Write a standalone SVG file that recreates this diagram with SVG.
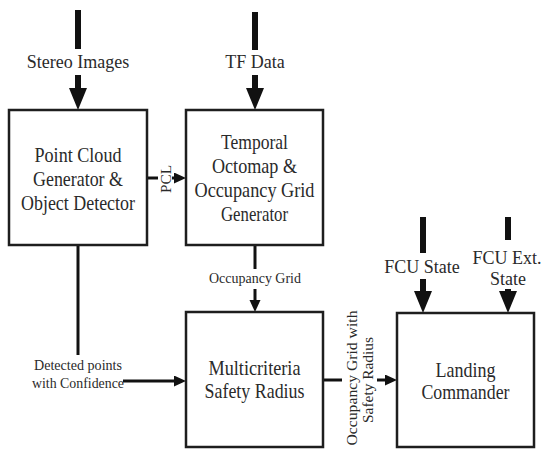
<svg xmlns="http://www.w3.org/2000/svg" width="543" height="449" viewBox="0 0 543 449">
<style>
.bg{fill:#ffffff}
.box{fill:#ffffff;stroke:#1e1e1e;stroke-width:2.5}
.t{font-family:"Liberation Serif",serif;fill:#2a2a2a;text-anchor:middle}
.bt{font-size:21px}
.lt{font-size:18px}
.st{font-size:14px}
.thick{stroke:#111;stroke-width:6;fill:none}
.thin{stroke:#111;stroke-width:3;fill:none}
</style>
<defs>
<marker id="big" markerUnits="userSpaceOnUse" markerWidth="24" markerHeight="20" refX="4" refY="9" orient="auto">
<path d="M0,0 L22,9 L0,18 z" fill="#111"/>
</marker>
<marker id="small" markerUnits="userSpaceOnUse" markerWidth="14" markerHeight="12" refX="1" refY="5.5" orient="auto">
<path d="M0,0 L12,5.5 L0,11 z" fill="#111"/>
</marker>
</defs>
<rect class="bg" x="0" y="0" width="543" height="449"/>

<g id="connectors">
<line class="thick" x1="78" y1="10" x2="78" y2="49"/>
<line class="thick" x1="78" y1="75" x2="78" y2="92" marker-end="url(#big)"/>
<text class="t lt" x="78" y="68">Stereo Images</text>
<line class="thick" x1="255" y1="12" x2="255" y2="50"/>
<line class="thick" x1="255" y1="75" x2="255" y2="92" marker-end="url(#big)"/>
<text class="t lt" x="255" y="68">TF Data</text>
<line class="thin" x1="147" y1="178" x2="158" y2="178"/>
<line class="thin" x1="172" y1="178" x2="175" y2="178" marker-end="url(#small)"/>
<text class="t st" transform="translate(171,179) rotate(-90)" x="0" y="0" textLength="28" lengthAdjust="spacingAndGlyphs">PCL</text>
<line class="thin" x1="255" y1="245" x2="255" y2="269"/>
<line class="thin" x1="255" y1="289" x2="255" y2="301" marker-end="url(#small)"/>
<text class="t st" x="255" y="283" textLength="92" lengthAdjust="spacingAndGlyphs">Occupancy Grid</text>
<line class="thin" x1="78" y1="245" x2="78" y2="355"/>
<line class="thin" x1="123" y1="381" x2="175" y2="381" marker-end="url(#small)"/>
<text class="t st" x="78" y="370" textLength="88" lengthAdjust="spacingAndGlyphs">Detected points</text>
<text class="t st" x="78" y="388" textLength="92" lengthAdjust="spacingAndGlyphs">with Confidence</text>
<line class="thin" x1="323" y1="380" x2="342" y2="380"/>
<line class="thin" x1="377" y1="380" x2="386" y2="380" marker-end="url(#small)"/>
<text class="t st" transform="translate(357,378) rotate(-90)" x="0" y="0" textLength="135" lengthAdjust="spacingAndGlyphs">Occupancy Grid with</text>
<text class="t st" transform="translate(373,380) rotate(-90)" x="0" y="0" textLength="86" lengthAdjust="spacingAndGlyphs">Safety Radius</text>
<line class="thick" x1="423" y1="217" x2="423" y2="253"/>
<line class="thick" x1="423" y1="279" x2="423" y2="295" marker-end="url(#big)"/>
<text class="t lt" x="422" y="273">FCU State</text>
<line class="thick" x1="508" y1="217" x2="508" y2="240"/>
<line class="thick" x1="508" y1="289" x2="508" y2="295" marker-end="url(#big)"/>
<text class="t lt" x="507" y="264">FCU Ext.</text>
<text class="t lt" x="508" y="285">State</text>
</g>

<g id="point-cloud">
<rect class="box" x="9" y="110" width="138" height="135"/>
<text class="t bt" x="78" y="162" textLength="87" lengthAdjust="spacingAndGlyphs">Point Cloud</text>
<text class="t bt" x="78" y="186" textLength="90" lengthAdjust="spacingAndGlyphs">Generator &amp;</text>
<text class="t bt" x="78" y="210" textLength="114" lengthAdjust="spacingAndGlyphs">Object Detector</text>
</g>

<g id="temporal-octomap">
<rect class="box" x="186" y="110" width="137" height="135"/>
<text class="t bt" x="254.5" y="149" textLength="67" lengthAdjust="spacingAndGlyphs">Temporal</text>
<text class="t bt" x="254.5" y="173" textLength="85" lengthAdjust="spacingAndGlyphs">Octomap &amp;</text>
<text class="t bt" x="254.5" y="197" textLength="120" lengthAdjust="spacingAndGlyphs">Occupancy Grid</text>
<text class="t bt" x="254.5" y="221" textLength="67" lengthAdjust="spacingAndGlyphs">Generator</text>
</g>

<g id="safety-radius">
<rect class="box" x="186" y="312" width="137" height="135"/>
<text class="t bt" x="254.5" y="375" textLength="92" lengthAdjust="spacingAndGlyphs">Multicriteria</text>
<text class="t bt" x="254.5" y="398" textLength="100" lengthAdjust="spacingAndGlyphs">Safety Radius</text>
</g>

<g id="landing-commander">
<rect class="box" x="397" y="313" width="137" height="134"/>
<text class="t bt" x="465.5" y="377" textLength="60" lengthAdjust="spacingAndGlyphs">Landing</text>
<text class="t bt" x="465.5" y="399" textLength="88" lengthAdjust="spacingAndGlyphs">Commander</text>
</g>
</svg>
